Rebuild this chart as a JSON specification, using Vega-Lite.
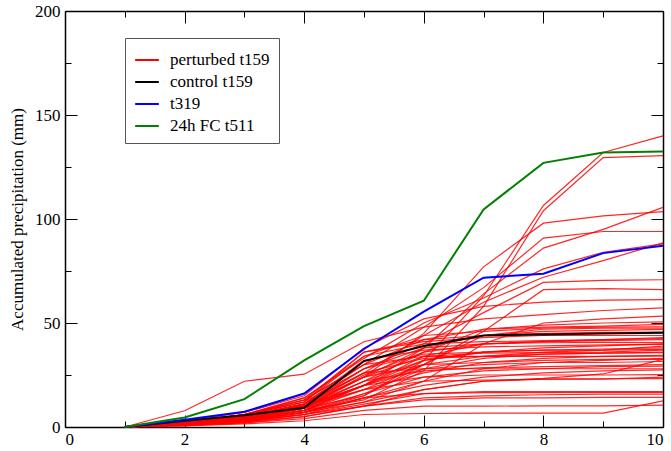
{
"$schema":"https://vega.github.io/schema/vega-lite/v6.json",
"width":598,"height":416,
"autosize":{"type":"none"},
"padding":{"left":65,"top":11,"right":8,"bottom":24},
"background":"white",
"config":{"view":{"stroke":null},"font":"Liberation Serif, Times New Roman, serif",
"axis":{"grid":false,"domainColor":"#000000","domainWidth":1.5,"tickColor":"#000000","tickWidth":1,"labelFont":"Liberation Serif, Times New Roman, serif","labelFontSize":17,"labelColor":"#000000","titleFont":"Liberation Serif, Times New Roman, serif","titleFontSize":17,"titleFontWeight":"normal","titleColor":"#000000"}},
"data":{"values":[
{"s":"P","m":1,"x":1,"y":0},{"s":"P","m":1,"x":2,"y":1.5},{"s":"P","m":1,"x":3,"y":4},{"s":"P","m":1,"x":4,"y":9},{"s":"P","m":1,"x":5,"y":15},{"s":"P","m":1,"x":6,"y":32},{"s":"P","m":1,"x":7,"y":63},{"s":"P","m":1,"x":8,"y":106.5},{"s":"P","m":1,"x":9,"y":132},{"s":"P","m":1,"x":10,"y":140},
{"s":"P","m":2,"x":1,"y":0},{"s":"P","m":2,"x":2,"y":1.2},{"s":"P","m":2,"x":3,"y":3.5},{"s":"P","m":2,"x":4,"y":8},{"s":"P","m":2,"x":5,"y":13},{"s":"P","m":2,"x":6,"y":27},{"s":"P","m":2,"x":7,"y":58},{"s":"P","m":2,"x":8,"y":104},{"s":"P","m":2,"x":9,"y":129.5},{"s":"P","m":2,"x":10,"y":130.5},
{"s":"P","m":3,"x":1,"y":0},{"s":"P","m":3,"x":2,"y":2},{"s":"P","m":3,"x":3,"y":5},{"s":"P","m":3,"x":4,"y":11},{"s":"P","m":3,"x":5,"y":24},{"s":"P","m":3,"x":6,"y":45},{"s":"P","m":3,"x":7,"y":77},{"s":"P","m":3,"x":8,"y":98},{"s":"P","m":3,"x":9,"y":101.5},{"s":"P","m":3,"x":10,"y":103.5},
{"s":"P","m":4,"x":1,"y":0},{"s":"P","m":4,"x":2,"y":2.5},{"s":"P","m":4,"x":3,"y":6},{"s":"P","m":4,"x":4,"y":13},{"s":"P","m":4,"x":5,"y":30},{"s":"P","m":4,"x":6,"y":48},{"s":"P","m":4,"x":7,"y":67},{"s":"P","m":4,"x":8,"y":90.8},{"s":"P","m":4,"x":9,"y":94},{"s":"P","m":4,"x":10,"y":94},
{"s":"P","m":5,"x":1,"y":0},{"s":"P","m":5,"x":2,"y":1.8},{"s":"P","m":5,"x":3,"y":5},{"s":"P","m":5,"x":4,"y":10},{"s":"P","m":5,"x":5,"y":20},{"s":"P","m":5,"x":6,"y":38},{"s":"P","m":5,"x":7,"y":64},{"s":"P","m":5,"x":8,"y":86},{"s":"P","m":5,"x":9,"y":95},{"s":"P","m":5,"x":10,"y":105.6},
{"s":"P","m":6,"x":1,"y":0},{"s":"P","m":6,"x":2,"y":2.2},{"s":"P","m":6,"x":3,"y":6},{"s":"P","m":6,"x":4,"y":14},{"s":"P","m":6,"x":5,"y":33},{"s":"P","m":6,"x":6,"y":50},{"s":"P","m":6,"x":7,"y":62},{"s":"P","m":6,"x":8,"y":76},{"s":"P","m":6,"x":9,"y":84},{"s":"P","m":6,"x":10,"y":88},
{"s":"P","m":7,"x":1,"y":0},{"s":"P","m":7,"x":2,"y":1.5},{"s":"P","m":7,"x":3,"y":4.5},{"s":"P","m":7,"x":4,"y":10},{"s":"P","m":7,"x":5,"y":26},{"s":"P","m":7,"x":6,"y":44},{"s":"P","m":7,"x":7,"y":60},{"s":"P","m":7,"x":8,"y":72},{"s":"P","m":7,"x":9,"y":80},{"s":"P","m":7,"x":10,"y":88.5},
{"s":"P","m":8,"x":1,"y":0},{"s":"P","m":8,"x":2,"y":2},{"s":"P","m":8,"x":3,"y":5.5},{"s":"P","m":8,"x":4,"y":12},{"s":"P","m":8,"x":5,"y":28},{"s":"P","m":8,"x":6,"y":40},{"s":"P","m":8,"x":7,"y":55},{"s":"P","m":8,"x":8,"y":69.5},{"s":"P","m":8,"x":9,"y":70.5},{"s":"P","m":8,"x":10,"y":70.8},
{"s":"P","m":9,"x":1,"y":0},{"s":"P","m":9,"x":2,"y":1.5},{"s":"P","m":9,"x":3,"y":4},{"s":"P","m":9,"x":4,"y":9},{"s":"P","m":9,"x":5,"y":18},{"s":"P","m":9,"x":6,"y":30},{"s":"P","m":9,"x":7,"y":46},{"s":"P","m":9,"x":8,"y":66},{"s":"P","m":9,"x":9,"y":66.5},{"s":"P","m":9,"x":10,"y":66},
{"s":"P","m":10,"x":1,"y":0},{"s":"P","m":10,"x":2,"y":2.8},{"s":"P","m":10,"x":3,"y":7},{"s":"P","m":10,"x":4,"y":15},{"s":"P","m":10,"x":5,"y":38},{"s":"P","m":10,"x":6,"y":52},{"s":"P","m":10,"x":7,"y":58},{"s":"P","m":10,"x":8,"y":60},{"s":"P","m":10,"x":9,"y":61},{"s":"P","m":10,"x":10,"y":61.2},
{"s":"P","m":11,"x":1,"y":0},{"s":"P","m":11,"x":2,"y":1},{"s":"P","m":11,"x":3,"y":3},{"s":"P","m":11,"x":4,"y":7},{"s":"P","m":11,"x":5,"y":14},{"s":"P","m":11,"x":6,"y":22},{"s":"P","m":11,"x":7,"y":40},{"s":"P","m":11,"x":8,"y":50},{"s":"P","m":11,"x":9,"y":52},{"s":"P","m":11,"x":10,"y":53.3},
{"s":"P","m":12,"x":1,"y":0},{"s":"P","m":12,"x":2,"y":2},{"s":"P","m":12,"x":3,"y":5},{"s":"P","m":12,"x":4,"y":11},{"s":"P","m":12,"x":5,"y":30},{"s":"P","m":12,"x":6,"y":42},{"s":"P","m":12,"x":7,"y":47},{"s":"P","m":12,"x":8,"y":48},{"s":"P","m":12,"x":9,"y":48.5},{"s":"P","m":12,"x":10,"y":49.3},
{"s":"P","m":13,"x":1,"y":0},{"s":"P","m":13,"x":2,"y":1.8},{"s":"P","m":13,"x":3,"y":5.5},{"s":"P","m":13,"x":4,"y":12},{"s":"P","m":13,"x":5,"y":34},{"s":"P","m":13,"x":6,"y":44},{"s":"P","m":13,"x":7,"y":46},{"s":"P","m":13,"x":8,"y":47.5},{"s":"P","m":13,"x":9,"y":48},{"s":"P","m":13,"x":10,"y":48.2},
{"s":"P","m":14,"x":1,"y":0},{"s":"P","m":14,"x":2,"y":7.8},{"s":"P","m":14,"x":3,"y":22},{"s":"P","m":14,"x":4,"y":25.4},{"s":"P","m":14,"x":5,"y":41},{"s":"P","m":14,"x":6,"y":48},{"s":"P","m":14,"x":7,"y":52},{"s":"P","m":14,"x":8,"y":54},{"s":"P","m":14,"x":9,"y":56},{"s":"P","m":14,"x":10,"y":57.3},
{"s":"P","m":15,"x":1,"y":0},{"s":"P","m":15,"x":2,"y":1.5},{"s":"P","m":15,"x":3,"y":4},{"s":"P","m":15,"x":4,"y":10},{"s":"P","m":15,"x":5,"y":24},{"s":"P","m":15,"x":6,"y":38},{"s":"P","m":15,"x":7,"y":44},{"s":"P","m":15,"x":8,"y":46},{"s":"P","m":15,"x":9,"y":46.5},{"s":"P","m":15,"x":10,"y":46.9},
{"s":"P","m":16,"x":1,"y":0},{"s":"P","m":16,"x":2,"y":2.5},{"s":"P","m":16,"x":3,"y":6},{"s":"P","m":16,"x":4,"y":13},{"s":"P","m":16,"x":5,"y":36},{"s":"P","m":16,"x":6,"y":41},{"s":"P","m":16,"x":7,"y":43},{"s":"P","m":16,"x":8,"y":44},{"s":"P","m":16,"x":9,"y":44},{"s":"P","m":16,"x":10,"y":44},
{"s":"P","m":17,"x":1,"y":0},{"s":"P","m":17,"x":2,"y":1.2},{"s":"P","m":17,"x":3,"y":3.5},{"s":"P","m":17,"x":4,"y":8},{"s":"P","m":17,"x":5,"y":20},{"s":"P","m":17,"x":6,"y":34},{"s":"P","m":17,"x":7,"y":40},{"s":"P","m":17,"x":8,"y":41},{"s":"P","m":17,"x":9,"y":41.5},{"s":"P","m":17,"x":10,"y":42},
{"s":"P","m":18,"x":1,"y":0},{"s":"P","m":18,"x":2,"y":2},{"s":"P","m":18,"x":3,"y":5},{"s":"P","m":18,"x":4,"y":11},{"s":"P","m":18,"x":5,"y":32},{"s":"P","m":18,"x":6,"y":37},{"s":"P","m":18,"x":7,"y":38.5},{"s":"P","m":18,"x":8,"y":39},{"s":"P","m":18,"x":9,"y":39.5},{"s":"P","m":18,"x":10,"y":39.7},
{"s":"P","m":19,"x":1,"y":0},{"s":"P","m":19,"x":2,"y":1.5},{"s":"P","m":19,"x":3,"y":4.5},{"s":"P","m":19,"x":4,"y":9},{"s":"P","m":19,"x":5,"y":22},{"s":"P","m":19,"x":6,"y":32},{"s":"P","m":19,"x":7,"y":36},{"s":"P","m":19,"x":8,"y":37},{"s":"P","m":19,"x":9,"y":37.5},{"s":"P","m":19,"x":10,"y":38},
{"s":"P","m":20,"x":1,"y":0},{"s":"P","m":20,"x":2,"y":2},{"s":"P","m":20,"x":3,"y":5},{"s":"P","m":20,"x":4,"y":10},{"s":"P","m":20,"x":5,"y":28},{"s":"P","m":20,"x":6,"y":35},{"s":"P","m":20,"x":7,"y":36},{"s":"P","m":20,"x":8,"y":37},{"s":"P","m":20,"x":9,"y":37},{"s":"P","m":20,"x":10,"y":37.3},
{"s":"P","m":21,"x":1,"y":0},{"s":"P","m":21,"x":2,"y":1},{"s":"P","m":21,"x":3,"y":3},{"s":"P","m":21,"x":4,"y":7},{"s":"P","m":21,"x":5,"y":16},{"s":"P","m":21,"x":6,"y":28},{"s":"P","m":21,"x":7,"y":33},{"s":"P","m":21,"x":8,"y":35},{"s":"P","m":21,"x":9,"y":35.5},{"s":"P","m":21,"x":10,"y":36},
{"s":"P","m":22,"x":1,"y":0},{"s":"P","m":22,"x":2,"y":2.2},{"s":"P","m":22,"x":3,"y":6},{"s":"P","m":22,"x":4,"y":12},{"s":"P","m":22,"x":5,"y":36},{"s":"P","m":22,"x":6,"y":42},{"s":"P","m":22,"x":7,"y":44},{"s":"P","m":22,"x":8,"y":45},{"s":"P","m":22,"x":9,"y":45.5},{"s":"P","m":22,"x":10,"y":45.6},
{"s":"P","m":23,"x":1,"y":0},{"s":"P","m":23,"x":2,"y":1.8},{"s":"P","m":23,"x":3,"y":5},{"s":"P","m":23,"x":4,"y":11},{"s":"P","m":23,"x":5,"y":26},{"s":"P","m":23,"x":6,"y":33},{"s":"P","m":23,"x":7,"y":34},{"s":"P","m":23,"x":8,"y":35},{"s":"P","m":23,"x":9,"y":35.5},{"s":"P","m":23,"x":10,"y":35.7},
{"s":"P","m":24,"x":1,"y":0},{"s":"P","m":24,"x":2,"y":1.3},{"s":"P","m":24,"x":3,"y":4},{"s":"P","m":24,"x":4,"y":8},{"s":"P","m":24,"x":5,"y":18},{"s":"P","m":24,"x":6,"y":26},{"s":"P","m":24,"x":7,"y":31},{"s":"P","m":24,"x":8,"y":33},{"s":"P","m":24,"x":9,"y":34},{"s":"P","m":24,"x":10,"y":34.5},
{"s":"P","m":25,"x":1,"y":0},{"s":"P","m":25,"x":2,"y":2},{"s":"P","m":25,"x":3,"y":5.5},{"s":"P","m":25,"x":4,"y":13},{"s":"P","m":25,"x":5,"y":30},{"s":"P","m":25,"x":6,"y":34},{"s":"P","m":25,"x":7,"y":34},{"s":"P","m":25,"x":8,"y":34},{"s":"P","m":25,"x":9,"y":34},{"s":"P","m":25,"x":10,"y":34.1},
{"s":"P","m":26,"x":1,"y":0},{"s":"P","m":26,"x":2,"y":1},{"s":"P","m":26,"x":3,"y":3},{"s":"P","m":26,"x":4,"y":6},{"s":"P","m":26,"x":5,"y":12},{"s":"P","m":26,"x":6,"y":22},{"s":"P","m":26,"x":7,"y":28},{"s":"P","m":26,"x":8,"y":31},{"s":"P","m":26,"x":9,"y":32},{"s":"P","m":26,"x":10,"y":33},
{"s":"P","m":27,"x":1,"y":0},{"s":"P","m":27,"x":2,"y":1.5},{"s":"P","m":27,"x":3,"y":4},{"s":"P","m":27,"x":4,"y":9},{"s":"P","m":27,"x":5,"y":24},{"s":"P","m":27,"x":6,"y":30},{"s":"P","m":27,"x":7,"y":31},{"s":"P","m":27,"x":8,"y":32},{"s":"P","m":27,"x":9,"y":32.5},{"s":"P","m":27,"x":10,"y":32.5},
{"s":"P","m":28,"x":1,"y":0},{"s":"P","m":28,"x":2,"y":2},{"s":"P","m":28,"x":3,"y":5},{"s":"P","m":28,"x":4,"y":10},{"s":"P","m":28,"x":5,"y":20},{"s":"P","m":28,"x":6,"y":28},{"s":"P","m":28,"x":7,"y":30},{"s":"P","m":28,"x":8,"y":31},{"s":"P","m":28,"x":9,"y":31},{"s":"P","m":28,"x":10,"y":31.5},
{"s":"P","m":29,"x":1,"y":0},{"s":"P","m":29,"x":2,"y":1},{"s":"P","m":29,"x":3,"y":2.5},{"s":"P","m":29,"x":4,"y":5},{"s":"P","m":29,"x":5,"y":10},{"s":"P","m":29,"x":6,"y":18},{"s":"P","m":29,"x":7,"y":22},{"s":"P","m":29,"x":8,"y":23.4},{"s":"P","m":29,"x":9,"y":25.5},{"s":"P","m":29,"x":10,"y":32.5},
{"s":"P","m":30,"x":1,"y":0},{"s":"P","m":30,"x":2,"y":1.6},{"s":"P","m":30,"x":3,"y":4.5},{"s":"P","m":30,"x":4,"y":9},{"s":"P","m":30,"x":5,"y":22},{"s":"P","m":30,"x":6,"y":27},{"s":"P","m":30,"x":7,"y":28.5},{"s":"P","m":30,"x":8,"y":29},{"s":"P","m":30,"x":9,"y":29.5},{"s":"P","m":30,"x":10,"y":30},
{"s":"P","m":31,"x":1,"y":0},{"s":"P","m":31,"x":2,"y":1.2},{"s":"P","m":31,"x":3,"y":3.5},{"s":"P","m":31,"x":4,"y":8},{"s":"P","m":31,"x":5,"y":16},{"s":"P","m":31,"x":6,"y":24},{"s":"P","m":31,"x":7,"y":27},{"s":"P","m":31,"x":8,"y":28},{"s":"P","m":31,"x":9,"y":29},{"s":"P","m":31,"x":10,"y":29.3},
{"s":"P","m":32,"x":1,"y":0},{"s":"P","m":32,"x":2,"y":2},{"s":"P","m":32,"x":3,"y":5},{"s":"P","m":32,"x":4,"y":11},{"s":"P","m":32,"x":5,"y":26},{"s":"P","m":32,"x":6,"y":28},{"s":"P","m":32,"x":7,"y":28},{"s":"P","m":32,"x":8,"y":28},{"s":"P","m":32,"x":9,"y":28},{"s":"P","m":32,"x":10,"y":28},
{"s":"P","m":33,"x":1,"y":0},{"s":"P","m":33,"x":2,"y":1},{"s":"P","m":33,"x":3,"y":3},{"s":"P","m":33,"x":4,"y":6},{"s":"P","m":33,"x":5,"y":14},{"s":"P","m":33,"x":6,"y":20},{"s":"P","m":33,"x":7,"y":24},{"s":"P","m":33,"x":8,"y":26},{"s":"P","m":33,"x":9,"y":27},{"s":"P","m":33,"x":10,"y":27.5},
{"s":"P","m":34,"x":1,"y":0},{"s":"P","m":34,"x":2,"y":1.5},{"s":"P","m":34,"x":3,"y":4},{"s":"P","m":34,"x":4,"y":9},{"s":"P","m":34,"x":5,"y":20},{"s":"P","m":34,"x":6,"y":24},{"s":"P","m":34,"x":7,"y":25},{"s":"P","m":34,"x":8,"y":25},{"s":"P","m":34,"x":9,"y":25},{"s":"P","m":34,"x":10,"y":25.2},
{"s":"P","m":35,"x":1,"y":0},{"s":"P","m":35,"x":2,"y":1.3},{"s":"P","m":35,"x":3,"y":3.5},{"s":"P","m":35,"x":4,"y":7},{"s":"P","m":35,"x":5,"y":12},{"s":"P","m":35,"x":6,"y":18},{"s":"P","m":35,"x":7,"y":22},{"s":"P","m":35,"x":8,"y":23},{"s":"P","m":35,"x":9,"y":23.2},{"s":"P","m":35,"x":10,"y":23.3},
{"s":"P","m":36,"x":1,"y":0},{"s":"P","m":36,"x":2,"y":1.8},{"s":"P","m":36,"x":3,"y":4.5},{"s":"P","m":36,"x":4,"y":10},{"s":"P","m":36,"x":5,"y":18},{"s":"P","m":36,"x":6,"y":22},{"s":"P","m":36,"x":7,"y":22.5},{"s":"P","m":36,"x":8,"y":23},{"s":"P","m":36,"x":9,"y":23},{"s":"P","m":36,"x":10,"y":24},
{"s":"P","m":37,"x":1,"y":0},{"s":"P","m":37,"x":2,"y":1},{"s":"P","m":37,"x":3,"y":2.5},{"s":"P","m":37,"x":4,"y":6},{"s":"P","m":37,"x":5,"y":11},{"s":"P","m":37,"x":6,"y":16},{"s":"P","m":37,"x":7,"y":17},{"s":"P","m":37,"x":8,"y":17},{"s":"P","m":37,"x":9,"y":17},{"s":"P","m":37,"x":10,"y":17},
{"s":"P","m":38,"x":1,"y":0},{"s":"P","m":38,"x":2,"y":1.2},{"s":"P","m":38,"x":3,"y":3},{"s":"P","m":38,"x":4,"y":7},{"s":"P","m":38,"x":5,"y":14},{"s":"P","m":38,"x":6,"y":16},{"s":"P","m":38,"x":7,"y":16.5},{"s":"P","m":38,"x":8,"y":16.5},{"s":"P","m":38,"x":9,"y":16.6},{"s":"P","m":38,"x":10,"y":16.6},
{"s":"P","m":39,"x":1,"y":0},{"s":"P","m":39,"x":2,"y":0.8},{"s":"P","m":39,"x":3,"y":2},{"s":"P","m":39,"x":4,"y":5},{"s":"P","m":39,"x":5,"y":10},{"s":"P","m":39,"x":6,"y":14},{"s":"P","m":39,"x":7,"y":15},{"s":"P","m":39,"x":8,"y":15.5},{"s":"P","m":39,"x":9,"y":15.8},{"s":"P","m":39,"x":10,"y":15.8},
{"s":"P","m":40,"x":1,"y":0},{"s":"P","m":40,"x":2,"y":1},{"s":"P","m":40,"x":3,"y":2.5},{"s":"P","m":40,"x":4,"y":6},{"s":"P","m":40,"x":5,"y":10},{"s":"P","m":40,"x":6,"y":13},{"s":"P","m":40,"x":7,"y":14},{"s":"P","m":40,"x":8,"y":14},{"s":"P","m":40,"x":9,"y":14.2},{"s":"P","m":40,"x":10,"y":14.2},
{"s":"P","m":41,"x":1,"y":0},{"s":"P","m":41,"x":2,"y":0.6},{"s":"P","m":41,"x":3,"y":2},{"s":"P","m":41,"x":4,"y":4},{"s":"P","m":41,"x":5,"y":8},{"s":"P","m":41,"x":6,"y":10},{"s":"P","m":41,"x":7,"y":10},{"s":"P","m":41,"x":8,"y":10.2},{"s":"P","m":41,"x":9,"y":10.2},{"s":"P","m":41,"x":10,"y":10.5},
{"s":"P","m":42,"x":1,"y":0},{"s":"P","m":42,"x":2,"y":0.5},{"s":"P","m":42,"x":3,"y":1.5},{"s":"P","m":42,"x":4,"y":3},{"s":"P","m":42,"x":5,"y":6},{"s":"P","m":42,"x":6,"y":6.5},{"s":"P","m":42,"x":7,"y":6.7},{"s":"P","m":42,"x":8,"y":6.7},{"s":"P","m":42,"x":9,"y":6.7},{"s":"P","m":42,"x":10,"y":12.6},
{"s":"P","m":43,"x":1,"y":0},{"s":"P","m":43,"x":2,"y":1.5},{"s":"P","m":43,"x":3,"y":4},{"s":"P","m":43,"x":4,"y":9},{"s":"P","m":43,"x":5,"y":25},{"s":"P","m":43,"x":6,"y":36},{"s":"P","m":43,"x":7,"y":40},{"s":"P","m":43,"x":8,"y":41},{"s":"P","m":43,"x":9,"y":42},{"s":"P","m":43,"x":10,"y":42.5},
{"s":"P","m":44,"x":1,"y":0},{"s":"P","m":44,"x":2,"y":2},{"s":"P","m":44,"x":3,"y":5},{"s":"P","m":44,"x":4,"y":11},{"s":"P","m":44,"x":5,"y":28},{"s":"P","m":44,"x":6,"y":38},{"s":"P","m":44,"x":7,"y":40},{"s":"P","m":44,"x":8,"y":40.5},{"s":"P","m":44,"x":9,"y":40.7},{"s":"P","m":44,"x":10,"y":40.6},
{"s":"P","m":45,"x":1,"y":0},{"s":"P","m":45,"x":2,"y":1.3},{"s":"P","m":45,"x":3,"y":3.8},{"s":"P","m":45,"x":4,"y":8},{"s":"P","m":45,"x":5,"y":20},{"s":"P","m":45,"x":6,"y":30},{"s":"P","m":45,"x":7,"y":34},{"s":"P","m":45,"x":8,"y":36},{"s":"P","m":45,"x":9,"y":37},{"s":"P","m":45,"x":10,"y":38.9},
{"s":"P","m":46,"x":1,"y":0},{"s":"P","m":46,"x":2,"y":1.7},{"s":"P","m":46,"x":3,"y":4.5},{"s":"P","m":46,"x":4,"y":10},{"s":"P","m":46,"x":5,"y":24},{"s":"P","m":46,"x":6,"y":34},{"s":"P","m":46,"x":7,"y":35.5},{"s":"P","m":46,"x":8,"y":35.8},{"s":"P","m":46,"x":9,"y":36},{"s":"P","m":46,"x":10,"y":37},
{"s":"P","m":47,"x":1,"y":0},{"s":"P","m":47,"x":2,"y":2.3},{"s":"P","m":47,"x":3,"y":6},{"s":"P","m":47,"x":4,"y":14},{"s":"P","m":47,"x":5,"y":34},{"s":"P","m":47,"x":6,"y":40},{"s":"P","m":47,"x":7,"y":41},{"s":"P","m":47,"x":8,"y":41.5},{"s":"P","m":47,"x":9,"y":42},{"s":"P","m":47,"x":10,"y":43},
{"s":"P","m":48,"x":1,"y":0},{"s":"P","m":48,"x":2,"y":1.5},{"s":"P","m":48,"x":3,"y":4},{"s":"P","m":48,"x":4,"y":10},{"s":"P","m":48,"x":5,"y":22},{"s":"P","m":48,"x":6,"y":36},{"s":"P","m":48,"x":7,"y":47},{"s":"P","m":48,"x":8,"y":49},{"s":"P","m":48,"x":9,"y":50},{"s":"P","m":48,"x":10,"y":50.5},
{"s":"P","m":49,"x":1,"y":0},{"s":"P","m":49,"x":2,"y":1},{"s":"P","m":49,"x":3,"y":3},{"s":"P","m":49,"x":4,"y":7},{"s":"P","m":49,"x":5,"y":15},{"s":"P","m":49,"x":6,"y":30},{"s":"P","m":49,"x":7,"y":44},{"s":"P","m":49,"x":8,"y":47},{"s":"P","m":49,"x":9,"y":47.5},{"s":"P","m":49,"x":10,"y":47.5},
{"s":"P","m":50,"x":1,"y":0},{"s":"P","m":50,"x":2,"y":1.5},{"s":"P","m":50,"x":3,"y":4.5},{"s":"P","m":50,"x":4,"y":10},{"s":"P","m":50,"x":5,"y":20},{"s":"P","m":50,"x":6,"y":32},{"s":"P","m":50,"x":7,"y":36},{"s":"P","m":50,"x":8,"y":38},{"s":"P","m":50,"x":9,"y":39},{"s":"P","m":50,"x":10,"y":40},
{"s":"C","m":101,"x":1,"y":0},{"s":"C","m":101,"x":2,"y":3},{"s":"C","m":101,"x":3,"y":5.7},{"s":"C","m":101,"x":4,"y":9.2},{"s":"C","m":101,"x":5,"y":31.7},{"s":"C","m":101,"x":6,"y":38.9},{"s":"C","m":101,"x":7,"y":44},{"s":"C","m":101,"x":8,"y":44.5},{"s":"C","m":101,"x":9,"y":45},{"s":"C","m":101,"x":10,"y":45.3},
{"s":"T","m":102,"x":1,"y":0},{"s":"T","m":102,"x":2,"y":3.5},{"s":"T","m":102,"x":3,"y":7.3},{"s":"T","m":102,"x":4,"y":16.1},{"s":"T","m":102,"x":5,"y":37.5},{"s":"T","m":102,"x":6,"y":55.5},{"s":"T","m":102,"x":7,"y":71.8},{"s":"T","m":102,"x":8,"y":73.7},{"s":"T","m":102,"x":9,"y":83.6},{"s":"T","m":102,"x":10,"y":87.1},
{"s":"F","m":103,"x":1,"y":0},{"s":"F","m":103,"x":2,"y":4.6},{"s":"F","m":103,"x":3,"y":13.4},{"s":"F","m":103,"x":4,"y":32},{"s":"F","m":103,"x":5,"y":48.5},{"s":"F","m":103,"x":6,"y":60.7},{"s":"F","m":103,"x":7,"y":104.6},{"s":"F","m":103,"x":8,"y":127},{"s":"F","m":103,"x":9,"y":132},{"s":"F","m":103,"x":10,"y":132.5}
]},
"resolve":{"axis":{"x":"independent","y":"independent"}},
"layer":[
{"transform":[{"filter":"datum.s == 'P'"}],
"mark":{"type":"line","strokeWidth":1.2,"opacity":0.85},
"encoding":{
"x":{"field":"x","type":"quantitative","scale":{"domain":[0,10],"nice":false,"zero":false},
"axis":{"orient":"bottom","title":null,"values":[0,1,2,3,4,5,6,7,8,9,10],"labelExpr":"datum.value % 2 === 0 ? datum.label : ''","tickSize":{"condition":{"test":"datum.value % 2 !== 0","value":-6},"value":-12},"labelPadding":16}},
"y":{"field":"y","type":"quantitative","scale":{"domain":[0,200],"nice":false},
"axis":{"orient":"left","title":"Accumulated precipitation (mm)","titlePadding":8,"values":[0,25,50,75,100,125,150,175,200],"labelExpr":"datum.value % 50 === 0 ? datum.label : ''","tickSize":{"condition":{"test":"datum.value % 50 !== 0","value":-6},"value":-12},"labelPadding":17}},
"color":{"field":"s","type":"nominal","scale":{"domain":["P","C","T","F"],"range":["#ff0000","#000000","#0000ff","#008000"]},
"legend":{"orient":"none","legendX":60,"legendY":27,"title":null,"direction":"vertical","symbolType":"stroke","symbolSize":560,"symbolStrokeWidth":2,"symbolOpacity":1,"labelFont":"Liberation Serif, Times New Roman, serif","labelFontSize":17,"labelColor":"#000000","labelLimit":300,"labelOffset":10,"rowPadding":1,"padding":9,"strokeColor":"#555555","fillColor":"#ffffff","labelExpr":"datum.label == 'P' ? 'perturbed t159' : datum.label == 'C' ? 'control t159' : datum.label == 'T' ? 't319' : '24h FC t511'"}},
"detail":{"field":"m","type":"nominal"}}},
{"transform":[{"filter":"datum.s != 'P'"}],
"mark":{"type":"line","strokeWidth":2},
"encoding":{
"x":{"field":"x","type":"quantitative",
"axis":{"orient":"top","title":null,"labels":false,"values":[0,1,2,3,4,5,6,7,8,9,10],"tickSize":{"condition":{"test":"datum.value % 2 !== 0","value":-6},"value":-12}}},
"y":{"field":"y","type":"quantitative",
"axis":{"orient":"right","title":null,"labels":false,"values":[0,25,50,75,100,125,150,175,200],"tickSize":{"condition":{"test":"datum.value % 50 !== 0","value":-6},"value":-12}}},
"color":{"field":"s","type":"nominal"},
"detail":{"field":"m","type":"nominal"}}}
]
}
